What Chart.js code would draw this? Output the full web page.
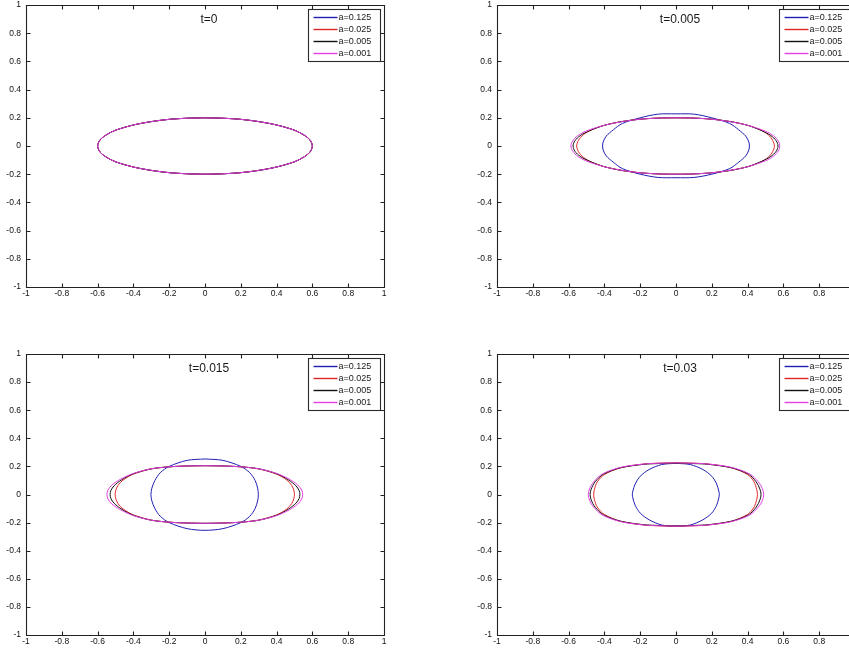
<!DOCTYPE html>
<html>
<head>
<meta charset="utf-8">
<script src="https://cdn.jsdelivr.net/npm/chart.js@4/dist/chart.umd.min.js"></script>
<style>
  html, body { margin: 0; padding: 0; background: #fff; }
  body { width: 849px; height: 648px; overflow: hidden; position: relative; }
  .panel { position: absolute; width: 400px; height: 330px; }
</style>
</head>
<body>
<div class="panel" style="left:0;top:-20px"><canvas id="p1"></canvas></div>
<div class="panel" style="left:471px;top:-20px"><canvas id="p2"></canvas></div>
<div class="panel" style="left:0;top:329px"><canvas id="p3"></canvas></div>
<div class="panel" style="left:471px;top:329px"><canvas id="p4"></canvas></div>
<script>
const panelTitles = ["t=0", "t=0.005", "t=0.015", "t=0.03"];
const seriesLabels = ["a=0.125", "a=0.025", "a=0.005", "a=0.001"];
const seriesColors = ["#1f1fb4", "#e02626", "#111111", "#e23ee2"];
const tickLabels = ["-1", "-0.8", "-0.6", "-0.4", "-0.2", "0", "0.2", "0.4", "0.6", "0.8", "1"];

// t=0 : all four runs start from the same ellipse
const t0Shape = [[0,0.2],[-0.1,0.197],[-0.2,0.189],[-0.3,0.173],[-0.4,0.149],[-0.5,0.112],[-0.55,0.08],[-0.585,0.045],[-0.6,0],[-0.585,-0.045],[-0.55,-0.08],[-0.5,-0.112],[-0.4,-0.149],[-0.3,-0.173],[-0.2,-0.189],[-0.1,-0.197],[0,-0.2],[0.1,-0.197],[0.2,-0.189],[0.3,-0.173],[0.4,-0.149],[0.5,-0.112],[0.55,-0.08],[0.585,-0.045],[0.6,0],[0.585,0.045],[0.55,0.08],[0.5,0.112],[0.4,0.149],[0.3,0.173],[0.2,0.189],[0.1,0.197],[0,0.2]];

// t=0.005
const t005a125 = [[0,0.228],[-0.1,0.226],[-0.2,0.2],[-0.3,0.16],[-0.35,0.115],[-0.39,0.07],[-0.407,0.028],[-0.41,0],[-0.407,-0.028],[-0.39,-0.07],[-0.35,-0.115],[-0.3,-0.16],[-0.2,-0.2],[-0.1,-0.223],[0,-0.225],[0.1,-0.223],[0.2,-0.2],[0.3,-0.16],[0.35,-0.115],[0.39,-0.07],[0.407,-0.028],[0.41,0],[0.407,0.028],[0.39,0.07],[0.35,0.115],[0.3,0.16],[0.2,0.2],[0.1,0.226],[0,0.228]];
const t005a025 = [[0,0.2],[-0.1,0.198],[-0.2,0.19],[-0.3,0.174],[-0.4,0.147],[-0.47,0.115],[-0.518,0.08],[-0.545,0.04],[-0.555,0],[-0.545,-0.04],[-0.518,-0.08],[-0.47,-0.115],[-0.4,-0.147],[-0.3,-0.174],[-0.2,-0.19],[-0.1,-0.198],[0,-0.2],[0.1,-0.198],[0.2,-0.19],[0.3,-0.174],[0.4,-0.147],[0.47,-0.115],[0.515,-0.08],[0.54,-0.04],[0.55,0],[0.54,0.04],[0.515,0.08],[0.47,0.115],[0.4,0.147],[0.3,0.174],[0.2,0.19],[0.1,0.198],[0,0.2]];
const t005a005 = [[0,0.2],[-0.1,0.198],[-0.2,0.19],[-0.3,0.174],[-0.4,0.147],[-0.48,0.11],[-0.535,0.074],[-0.565,0.037],[-0.575,0],[-0.565,-0.037],[-0.535,-0.074],[-0.48,-0.11],[-0.4,-0.147],[-0.3,-0.174],[-0.2,-0.19],[-0.1,-0.198],[0,-0.2],[0.1,-0.198],[0.2,-0.19],[0.3,-0.174],[0.4,-0.147],[0.48,-0.108],[0.53,-0.074],[0.56,-0.037],[0.57,0],[0.56,0.037],[0.53,0.074],[0.48,0.108],[0.4,0.147],[0.3,0.174],[0.2,0.19],[0.1,0.198],[0,0.2]];
const t005a001 = [[0,0.2],[-0.1,0.198],[-0.2,0.19],[-0.3,0.173],[-0.4,0.147],[-0.5,0.107],[-0.55,0.072],[-0.578,0.035],[-0.587,0],[-0.578,-0.035],[-0.55,-0.072],[-0.5,-0.107],[-0.4,-0.147],[-0.3,-0.173],[-0.2,-0.19],[-0.1,-0.198],[0,-0.2],[0.1,-0.198],[0.2,-0.19],[0.3,-0.173],[0.4,-0.147],[0.5,-0.105],[0.545,-0.072],[0.572,-0.035],[0.58,0],[0.572,0.035],[0.545,0.072],[0.5,0.105],[0.4,0.147],[0.3,0.173],[0.2,0.19],[0.1,0.198],[0,0.2]];

// t=0.015
const t015a125 = [[0,0.253],[-0.1,0.243],[-0.2,0.2],[-0.25,0.155],[-0.28,0.1],[-0.297,0.045],[-0.302,0],[-0.297,-0.045],[-0.28,-0.1],[-0.25,-0.155],[-0.2,-0.2],[-0.1,-0.243],[0,-0.255],[0.1,-0.243],[0.2,-0.2],[0.25,-0.155],[0.28,-0.1],[0.294,-0.045],[0.298,0],[0.294,0.045],[0.28,0.1],[0.25,0.155],[0.2,0.2],[0.1,0.243],[0,0.253]];
const t015a025 = [[0,0.205],[-0.1,0.203],[-0.2,0.197],[-0.3,0.182],[-0.4,0.145],[-0.455,0.105],[-0.487,0.063],[-0.499,0.027],[-0.502,0],[-0.499,-0.027],[-0.487,-0.063],[-0.455,-0.105],[-0.4,-0.145],[-0.3,-0.182],[-0.2,-0.197],[-0.1,-0.203],[0,-0.205],[0.1,-0.203],[0.2,-0.197],[0.3,-0.182],[0.4,-0.145],[0.455,-0.105],[0.485,-0.063],[0.497,-0.027],[0.5,0],[0.497,0.027],[0.485,0.063],[0.455,0.105],[0.4,0.145],[0.3,0.182],[0.2,0.197],[0.1,0.203],[0,0.205]];
const t015a005 = [[0,0.205],[-0.1,0.203],[-0.2,0.197],[-0.3,0.183],[-0.4,0.148],[-0.465,0.105],[-0.508,0.062],[-0.526,0.028],[-0.53,0],[-0.526,-0.028],[-0.508,-0.062],[-0.465,-0.105],[-0.4,-0.148],[-0.3,-0.183],[-0.2,-0.197],[-0.1,-0.203],[0,-0.205],[0.1,-0.203],[0.2,-0.197],[0.3,-0.183],[0.4,-0.148],[0.465,-0.105],[0.508,-0.062],[0.526,-0.028],[0.53,0],[0.526,0.028],[0.508,0.062],[0.465,0.105],[0.4,0.148],[0.3,0.183],[0.2,0.197],[0.1,0.203],[0,0.205]];
const t015a001 = [[0,0.205],[-0.1,0.203],[-0.2,0.197],[-0.3,0.183],[-0.4,0.15],[-0.47,0.11],[-0.52,0.068],[-0.542,0.032],[-0.548,0],[-0.542,-0.032],[-0.52,-0.068],[-0.47,-0.11],[-0.4,-0.15],[-0.3,-0.183],[-0.2,-0.197],[-0.1,-0.203],[0,-0.205],[0.1,-0.203],[0.2,-0.197],[0.3,-0.183],[0.4,-0.15],[0.47,-0.11],[0.518,-0.068],[0.54,-0.032],[0.546,0],[0.54,0.032],[0.518,0.068],[0.47,0.11],[0.4,0.15],[0.3,0.183],[0.2,0.197],[0.1,0.203],[0,0.205]];

// t=0.03
const t03a125 = [[0,0.222],[-0.08,0.213],[-0.15,0.178],[-0.2,0.13],[-0.228,0.075],[-0.241,0.025],[-0.244,0],[-0.241,-0.025],[-0.228,-0.077],[-0.2,-0.132],[-0.15,-0.18],[-0.08,-0.217],[0,-0.227],[0.08,-0.217],[0.15,-0.18],[0.2,-0.132],[0.227,-0.077],[0.239,-0.025],[0.242,0],[0.239,0.025],[0.227,0.075],[0.2,0.13],[0.15,0.178],[0.08,0.213],[0,0.222]];
const t03a025 = [[0,0.226],[-0.1,0.223],[-0.18,0.217],[-0.31,0.19],[-0.4,0.142],[-0.44,0.09],[-0.456,0.035],[-0.46,0],[-0.456,-0.035],[-0.44,-0.09],[-0.4,-0.142],[-0.31,-0.19],[-0.18,-0.217],[-0.1,-0.223],[0,-0.226],[0.1,-0.223],[0.18,-0.217],[0.31,-0.19],[0.4,-0.142],[0.436,-0.09],[0.451,-0.035],[0.455,0],[0.451,0.035],[0.436,0.09],[0.4,0.142],[0.31,0.19],[0.18,0.217],[0.1,0.223],[0,0.226]];
const t03a005 = [[0,0.223],[-0.1,0.22],[-0.18,0.215],[-0.31,0.19],[-0.405,0.145],[-0.452,0.09],[-0.474,0.038],[-0.48,0],[-0.474,-0.038],[-0.452,-0.09],[-0.405,-0.145],[-0.31,-0.19],[-0.18,-0.215],[-0.1,-0.22],[0,-0.223],[0.1,-0.22],[0.18,-0.215],[0.31,-0.19],[0.405,-0.145],[0.448,-0.09],[0.469,-0.038],[0.475,0],[0.469,0.038],[0.448,0.09],[0.405,0.145],[0.31,0.19],[0.18,0.215],[0.1,0.22],[0,0.223]];
const t03a001 = [[0,0.225],[-0.1,0.222],[-0.18,0.217],[-0.31,0.193],[-0.41,0.147],[-0.46,0.09],[-0.483,0.04],[-0.49,0],[-0.483,-0.04],[-0.46,-0.09],[-0.41,-0.147],[-0.31,-0.193],[-0.18,-0.217],[-0.1,-0.222],[0,-0.225],[0.1,-0.222],[0.18,-0.217],[0.31,-0.193],[0.41,-0.147],[0.46,-0.09],[0.483,-0.04],[0.49,0],[0.483,0.04],[0.46,0.09],[0.41,0.147],[0.31,0.193],[0.18,0.217],[0.1,0.222],[0,0.225]];

const panelSeries = [
  [t0Shape, t0Shape, t0Shape, t0Shape],
  [t005a125, t005a025, t005a005, t005a001],
  [t015a125, t015a025, t015a005, t015a001],
  [t03a125, t03a025, t03a005, t03a001],
];

const FONT = "'Liberation Sans', Arial, Helvetica, sans-serif";

// matlab-ish axes box: frame, inward ticks on all sides, title and legend inside the axes
const matlabBox = {
  id: "matlabBox",
  afterDraw(chart, args, opts) {
    const { ctx, chartArea: a } = chart;
    const { x, y } = chart.scales;
    const L = Math.round(a.left) + 0.5, R = Math.round(a.right) + 0.5;
    const T = Math.round(a.top) + 0.5, B = Math.round(a.bottom) + 0.5;
    ctx.save();
    ctx.strokeStyle = "#222";
    ctx.lineWidth = 1.1;
    ctx.beginPath();
    ctx.rect(L, T, R - L, B - T);
    x.ticks.forEach((t) => {
      const p = Math.round(x.getPixelForValue(t.value)) + 0.5;
      ctx.moveTo(p, B); ctx.lineTo(p, B - 4);
      ctx.moveTo(p, T); ctx.lineTo(p, T + 4);
    });
    y.ticks.forEach((t) => {
      const p = Math.round(y.getPixelForValue(t.value)) + 0.5;
      ctx.moveTo(L, p); ctx.lineTo(L + 4, p);
      ctx.moveTo(R, p); ctx.lineTo(R - 4, p);
    });
    ctx.stroke();

    ctx.fillStyle = "#1a1a1a";
    ctx.font = "12px " + FONT;
    ctx.textAlign = "center";
    ctx.textBaseline = "middle";
    ctx.fillText(opts.title, (a.left + a.right) / 2 + 4, a.top + 14.5);

    // legend
    const bw = 72, bh = 52;
    const bx = Math.round(a.right) - 4 - bw + 0.5, by = Math.round(a.top) + 4 + 0.5;
    ctx.fillStyle = "#fff";
    ctx.fillRect(bx, by, bw, bh);
    ctx.lineWidth = 1.1;
    ctx.strokeStyle = "#2a2a2a";
    ctx.strokeRect(bx, by, bw, bh);
    ctx.font = "9px " + FONT;
    ctx.textAlign = "left";
    const rows = [7, 19.5, 31, 43];
    seriesLabels.forEach((lab, i) => {
      const ry = Math.round(by + rows[i]) + 0.5;
      ctx.strokeStyle = seriesColors[i];
      ctx.lineWidth = 1.4;
      ctx.beginPath();
      ctx.moveTo(bx + 5, ry); ctx.lineTo(bx + 29, ry);
      ctx.stroke();
      ctx.fillStyle = "#1a1a1a";
      ctx.fillText(lab, bx + 30, ry + 0.5);
    });
    ctx.restore();
  },
};

function makePanel(canvasId, title, series, padBottom) {
  const datasets = series.map((pts, i) => ({
    label: seriesLabels[i],
    data: pts.map(([px, py]) => ({ x: px, y: py })),
    borderColor: seriesColors[i],
    borderWidth: 1,
    pointRadius: 0,
    showLine: true,
    tension: 0.3,
    order: series.length - 1 - i, // magenta on top, blue at the bottom
  }));
  const axis = (pad) => ({
    type: "linear",
    min: -1,
    max: 1,
    grid: { display: false, drawTicks: false },
    border: { display: false },
    ticks: {
      stepSize: 0.2,
      autoSkip: false,
      maxRotation: 0,
      padding: pad,
      color: "#111",
      font: { family: FONT, size: 8.5 },
      callback: (v, i) => tickLabels[i],
    },
  });
  return new Chart(document.getElementById(canvasId), {
    type: "scatter",
    data: { datasets },
    plugins: [matlabBox],
    options: {
      responsive: true,
      maintainAspectRatio: false,
      animation: false,
      layout: { padding: { left: 0, right: 16, top: 25, bottom: padBottom } },
      plugins: {
        legend: { display: false },
        tooltip: { enabled: false },
        matlabBox: { title },
      },
      scales: {
        x: { ...axis(2), afterFit: (s) => { s.height = 20; } },
        y: { ...axis(5), afterFit: (s) => { s.width = 26; } },
      },
    },
  });
}

makePanel("p1", panelTitles[0], panelSeries[0], 3);
makePanel("p2", panelTitles[1], panelSeries[1], 3);
makePanel("p3", panelTitles[2], panelSeries[2], 4);
makePanel("p4", panelTitles[3], panelSeries[3], 4);
</script>
</body>
</html>
